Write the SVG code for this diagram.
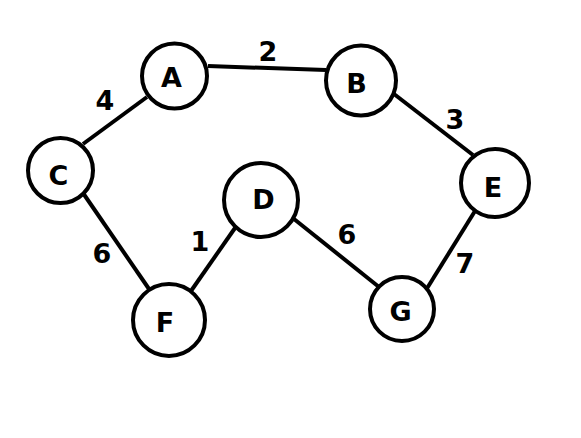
<svg xmlns="http://www.w3.org/2000/svg" width="581" height="438" viewBox="0 0 581 438">
<style>
.n{fill:#fff;stroke:#000;stroke-width:4}
.e{stroke:#000;stroke-width:4;fill:none}
text{font-family:"DejaVu Sans","Liberation Sans",sans-serif;font-weight:bold;font-size:27px;fill:#000;text-anchor:middle}
</style>
<rect width="581" height="438" fill="#fff"/>
<g id="edges">
<line class="e" x1="208" y1="66" x2="326" y2="70"/>
<line class="e" x1="147" y1="97" x2="83" y2="144"/>
<line class="e" x1="83" y1="193" x2="149" y2="289"/>
<line class="e" x1="191" y1="291" x2="235" y2="228"/>
<line class="e" x1="294" y1="219" x2="379" y2="287"/>
<line class="e" x1="394" y1="94" x2="473" y2="155"/>
<line class="e" x1="475" y1="211" x2="426" y2="290"/>
<text x="268" y="61">2</text>
<text x="105" y="110">4</text>
<text x="455" y="129">3</text>
<text x="102" y="263">6</text>
<text x="200" y="251">1</text>
<text x="347" y="244">6</text>
<text x="465" y="273">7</text>
</g>
<g id="A"><circle class="n" cx="174.5" cy="76" r="32.5"/><text x="171.5" y="87">A</text></g>
<g id="B"><circle class="n" cx="361" cy="80.5" r="35"/><text x="356.5" y="92.5">B</text></g>
<g id="C"><circle class="n" cx="60.5" cy="170.5" r="32.5"/><text x="58.5" y="185">C</text></g>
<g id="D"><circle class="n" cx="261" cy="200" r="37"/><text x="263.5" y="209">D</text></g>
<g id="E"><circle class="n" cx="495" cy="183" r="34"/><text x="493" y="196.5">E</text></g>
<g id="F"><circle class="n" cx="169" cy="320" r="36"/><text x="165" y="332">F</text></g>
<g id="G"><circle class="n" cx="402" cy="309" r="32"/><text x="400.5" y="320.5">G</text></g>
</svg>
